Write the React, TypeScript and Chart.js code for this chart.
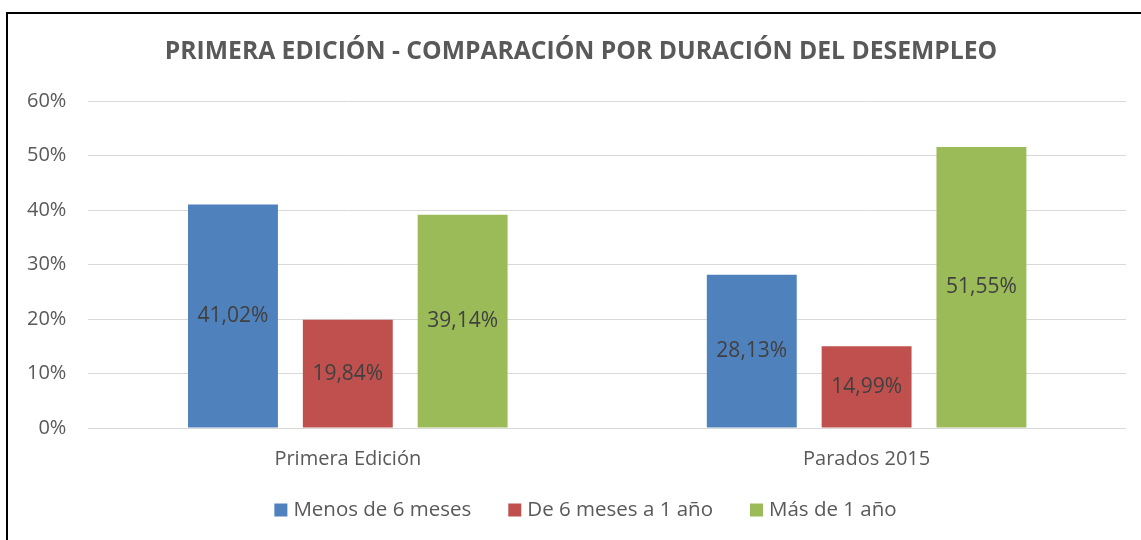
import React, { useEffect, useRef } from "react";
import { Chart, registerables } from "chart.js";

Chart.register(...registerables);

const TITLE = "PRIMERA EDICIÓN - COMPARACIÓN POR DURACIÓN DEL DESEMPLEO";
const categories = ["Primera Edición", "Parados 2015"];
const seriesNames = ["Menos de 6 meses", "De 6 meses a 1 año", "Más de 1 año"];
const menos6 = [41.02, 28.13];
const de6a1 = [19.84, 14.99];
const mas1 = [39.14, 51.55];
const seriesColors = ["#4f81bd", "#c0504d", "#9bbb59"];
const yMax = 60;
const yStep = 10;

const FONT = "'Open Sans', Lato, sans-serif";

const valueLabels = {
  id: "valueLabels",
  afterDatasetsDraw(chart: any) {
    const ctx = chart.ctx;
    ctx.save();
    ctx.font = `21px ${FONT}`;
    ctx.fillStyle = "#404040";
    ctx.textAlign = "center";
    ctx.textBaseline = "middle";
    chart.data.datasets.forEach((ds: any, i: number) => {
      const meta = chart.getDatasetMeta(i);
      meta.data.forEach((bar: any, j: number) => {
        const v = ds.data[j] as number;
        const y = (bar.y + bar.base) / 2;
        ctx.fillText(v.toFixed(2).replace(".", ",") + "%", bar.x, y);
      });
    });
    ctx.restore();
  },
};

// Title and legend drawn at fixed places (Excel-like layout)
const titleAndLegend = {
  id: "titleAndLegend",
  afterDraw(chart: any) {
    const ctx = chart.ctx;
    ctx.save();
    // title
    ctx.font = `bold 24.7px ${FONT}`;
    ctx.fillStyle = "#595959";
    ctx.textAlign = "center";
    ctx.textBaseline = "middle";
    ctx.fillText(TITLE, 572, 37);
    // legend
    ctx.font = `20.5px ${FONT}`;
    const box = 13;
    const gap = 6;
    const itemGap = 37;
    const items = chart.data.datasets.map((ds: any) => ({
      text: ds.label as string,
      color: ds.backgroundColor as string,
      w: ctx.measureText(ds.label).width,
    }));
    const total =
      items.reduce((s: number, it: any) => s + box + gap + it.w, 0) + itemGap * (items.length - 1);
    let x = 576.5 - total / 2;
    const y = 495;
    ctx.textAlign = "left";
    items.forEach((it: any) => {
      ctx.fillStyle = it.color;
      ctx.fillRect(x, y - box / 2, box, box);
      ctx.fillStyle = "#595959";
      ctx.fillText(it.text, x + box + gap, y);
      x += box + gap + it.w + itemGap;
    });
    ctx.restore();
  },
};

export default function App() {
  const ref = useRef<HTMLCanvasElement | null>(null);
  useEffect(() => {
    if (!ref.current) return;
    const data = [menos6, de6a1, mas1];
    const chart = new Chart(ref.current, {
      type: "bar",
      data: {
        labels: categories,
        datasets: seriesNames.map((name, i) => ({
          label: name,
          data: data[i],
          backgroundColor: seriesColors[i],
          borderWidth: 0,
          categoryPercentage: 0.664,
          barPercentage: 0.783,
        })),
      },
      options: {
        animation: false,
        responsive: true,
        maintainAspectRatio: false,
        layout: { padding: { left: -4, right: 15, top: 86, bottom: 69 } },
        plugins: {
          title: { display: false },
          legend: { display: false },
          tooltip: { enabled: false },
        },
        scales: {
          x: {
            grid: { display: false, drawTicks: false },
            border: { display: false },
            ticks: { color: "#595959", font: { family: FONT, size: 20 }, padding: 19 },
            afterFit: (scale: any) => {
              scale.height = 43;
            },
          },
          y: {
            min: 0,
            max: yMax,
            grid: { color: "#d9d9d9", lineWidth: 1, drawTicks: false },
            border: { display: false },
            ticks: {
              stepSize: yStep,
              color: "#595959",
              font: { family: FONT, size: 20 },
              padding: 22,
              callback: (v: any) => `${v}%`,
            },
          },
        },
      },
      plugins: [valueLabels, titleAndLegend],
    });
    return () => chart.destroy();
  }, []);

  return (
    <div
      style={{
        position: "absolute",
        left: 6,
        top: 12,
        width: 1140,
        height: 540,
        borderLeft: "2px solid #000",
        borderTop: "2px solid #000",
        background: "#fff",
      }}
    >
      <div style={{ position: "absolute", left: 1, top: 1, width: 1132, height: 525 }}>
        <canvas ref={ref} />
      </div>
    </div>
  );
}
